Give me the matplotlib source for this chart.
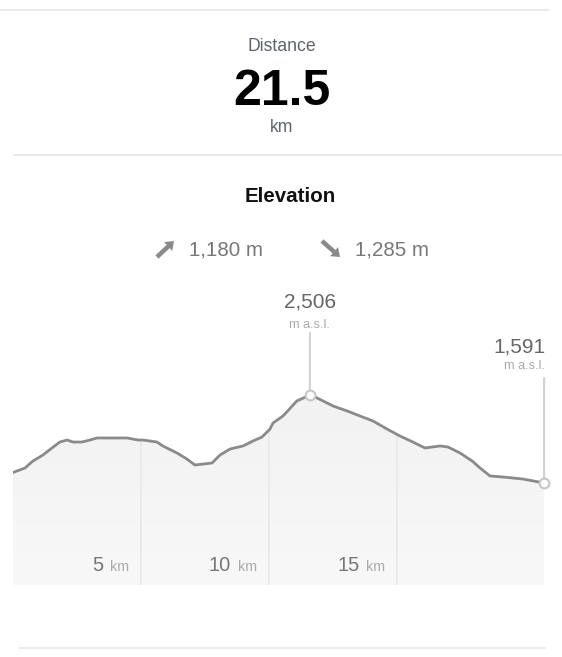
import matplotlib
matplotlib.use("Agg")
import matplotlib.pyplot as plt
import numpy as np
from matplotlib.colors import LinearSegmentedColormap
from matplotlib.patches import FancyArrow

plt.rcParams['font.family'] = ['Liberation Sans', 'DejaVu Sans']

# elevation profile (km, m a.s.l.)
dist = [0.0, 0.47, 0.78, 1.17, 1.52, 1.83, 2.11, 2.34, 2.69, 3.01, 3.28, 4.45,
        4.88, 5.07, 5.62, 5.85, 6.40, 6.79, 7.10, 7.77, 8.08, 8.47, 8.98, 9.37,
        9.72, 10.03, 10.15, 10.54, 11.08, 11.59, 11.87, 12.49, 13.04, 13.54,
        14.05, 14.60, 15.10, 15.61, 16.08, 16.67, 16.98, 17.45, 17.92, 18.23,
        18.62, 19.13, 19.91, 20.73]
elev = [1700, 1747, 1820, 1882, 1955, 2017, 2038, 2017, 2017, 2038, 2059, 2059,
        2038, 2038, 2017, 1976, 1903, 1840, 1778, 1799, 1882, 1944, 1976, 2028,
        2069, 2152, 2215, 2288, 2444, 2506, 2475, 2392, 2340, 2288,
        2236, 2152, 2080, 2017, 1955, 1976, 1965, 1903, 1820, 1747,
        1664, 1653, 1632, 1591]
grid_km = [5, 10, 15]
total_km = "21.5"
ascent = "1,180 m"
descent = "1,285 m"
peak_label = "2,506"
end_label = "1,591"

W, H = 562, 657
fig = plt.figure(figsize=(W / 100, H / 100), dpi=100)
fig.patch.set_facecolor('white')

# overlay axes in pixel coordinates for the header part
ov = fig.add_axes([0, 0, 1, 1])
ov.set_xlim(0, W)
ov.set_ylim(H, 0)
ov.axis('off')

sep = '#e6e6e6'
ov.plot([0, 548], [10, 10], color=sep, lw=1.2)
ov.plot([14, 562], [155, 155], color=sep, lw=1.2)
ov.plot([20, 545], [648, 648], color=sep, lw=1.2)

ov.text(282, 51, "Distance", ha='center', va='baseline', fontsize=12.7, color='#5c6470')
ov.text(282, 105, total_km, ha='center', va='baseline', fontsize=36, fontweight='bold', color='black')
ov.text(282, 132, "km", ha='center', va='baseline', fontsize=12.7, color='#5c6470')
ov.text(290, 202, "Elevation", ha='center', va='baseline', fontsize=14.8, fontweight='bold', color='#111111')

# block arrows for ascent / descent
arrow_kw = dict(width=4.5, head_width=12, head_length=8, length_includes_head=True,
                color='#8a8a8a', lw=0)
ov.add_patch(FancyArrow(157, 257, 17, -16, **arrow_kw))
ov.add_patch(FancyArrow(322, 241, 18, 16, **arrow_kw))
ov.text(189, 256, ascent, ha='left', va='baseline', fontsize=14.8, color='#777777')
ov.text(355, 256, descent, ha='left', va='baseline', fontsize=14.8, color='#777777')

# elevation chart
left, right, top, bottom = 13, 551, 280, 585
ax = fig.add_axes([left / W, 1 - bottom / H, (right - left) / W, (bottom - top) / H])
ax.axis('off')
y0 = 530
y1 = y0 + (bottom - top) * 10.4
x0, x1 = 0, 21.0

poly = ax.fill_between(dist, elev, y0, facecolor='none', edgecolor='none')
cmap = LinearSegmentedColormap.from_list('g', ['#f8f8f8', '#eeeeee'])
grad = np.linspace(0, 1, 256).reshape(-1, 1)
im = ax.imshow(grad, extent=[x0, x1, y0, y1], aspect='auto', cmap=cmap,
               origin='lower', zorder=1)
im.set_clip_path(poly.get_paths()[0], transform=ax.transData)

ax.vlines(grid_km, y0, np.interp(grid_km, dist, elev), color='#e9e9e9', lw=1.3, zorder=2)
ax.plot(dist, elev, color='#8a8a8a', lw=2, zorder=3, solid_joinstyle='round')

i_peak = int(np.argmax(elev))
pk = (dist[i_peak], elev[i_peak])
en = (dist[-1], elev[-1])

ax.annotate('', xy=pk, xytext=(0, 62), textcoords='offset pixels',
            arrowprops=dict(arrowstyle='-', color='#d2d2d2', lw=1.5, shrinkA=0, shrinkB=4))
ax.annotate('', xy=en, xytext=(0, 105), textcoords='offset pixels',
            arrowprops=dict(arrowstyle='-', color='#d2d2d2', lw=1.5, shrinkA=0, shrinkB=4))
ax.plot([pk[0], en[0]], [pk[1], en[1]], 'o', ms=7, mfc='white', mec='#c6c6c6', mew=1.5,
        zorder=5, clip_on=False)

ax.annotate(peak_label, xy=pk, xytext=(0, 87), textcoords='offset pixels',
            ha='center', va='baseline', fontsize=15, color='#666666')
ax.annotate("m a.s.l.", xy=pk, xytext=(0, 67), textcoords='offset pixels',
            ha='center', va='baseline', fontsize=9.2, color='#aaaaaa')
ax.annotate(end_label, xy=en, xytext=(1, 130), textcoords='offset pixels',
            ha='right', va='baseline', fontsize=15, color='#666666')
ax.annotate("m a.s.l.", xy=en, xytext=(1, 114), textcoords='offset pixels',
            ha='right', va='baseline', fontsize=9.2, color='#aaaaaa')

xt = ax.get_xaxis_transform()
for k in grid_km:
    ax.annotate("km", xy=(k, 0), xycoords=xt, xytext=(-12, 14), textcoords='offset pixels',
                ha='right', va='baseline', fontsize=10.3, color='#aaaaaa')
    ax.annotate(str(k), xy=(k, 0), xycoords=xt, xytext=(-38, 14), textcoords='offset pixels',
                ha='right', va='baseline', fontsize=14.5, color='#777777')

ax.set_xlim(x0, x1)
ax.set_ylim(y0, y1)

fig.savefig('out.png', dpi=100, facecolor='white')
